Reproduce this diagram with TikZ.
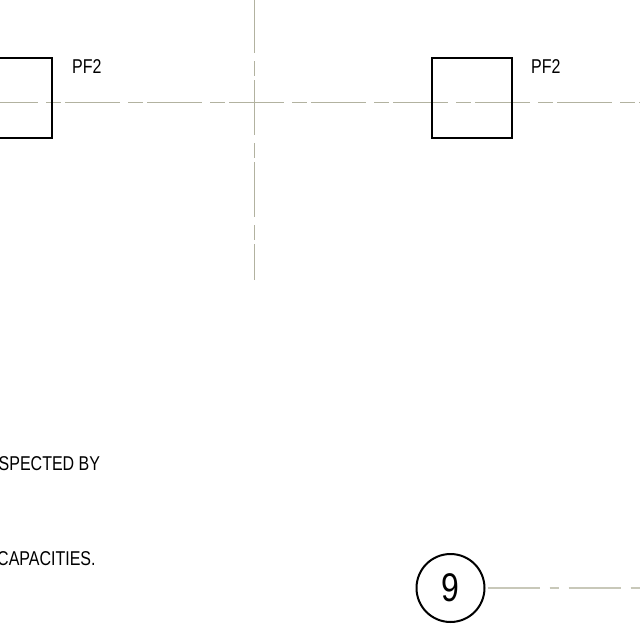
\documentclass[tikz,border=0pt]{standalone}
\usepackage{fontspec}
\setmainfont{Liberation Sans}
\newfontfamily\narrowfont[FakeStretch=0.8]{Liberation Sans}
\definecolor{gridcol}{RGB}{178,178,160}
\definecolor{gridpale}{RGB}{200,200,185}
\tikzset{
  x=1pt,y=-1pt,
  gridline/.style={draw=gridcol,line width=0.9pt,dash pattern=on 55pt off 8pt on 15pt off 4pt},
  gridlow/.style={draw=gridpale,line width=1.1pt,dash pattern=on 52pt off 10pt on 9pt off 10pt},
  column/.style={draw=black,line width=2pt,minimum size=80pt,inner sep=0pt},
  tag/.style={inner sep=0pt,anchor=base west,font=\narrowfont\fontsize{20}{22}\selectfont},
  bubble/.style={circle,draw=black,line width=2pt,minimum size=68pt,inner sep=0pt,font=\narrowfont\fontsize{40}{44}\selectfont}
}
\begin{document}
\begin{tikzpicture}
\useasboundingbox (0,0) rectangle (640,640);
\fill[white] (0,0) rectangle (640,640);
\coordinate (hs) at (-17,102);
\coordinate (he) at (640,102);
\coordinate (vs) at (254,-2);
\coordinate (ve) at (254,280);
\draw[gridline] (hs) -- (he);
\draw[gridline] (vs) -- (ve);
\node[column] (c1) at (12,97.5) {};
\node[column] (c2) at (472,97.5) {};
\node[tag] (t1) at (72,73) {PF2};
\node[tag] (t2) at (531,73) {PF2};
\node[tag] (n1) at (-1.5,470) {SPECTED BY};
\node[tag] (n2) at (-3,565) {CAPACITIES.};
\node[bubble] (b) at (450.5,588) {9};
\coordinate (be) at (640,588);
\draw[gridlow,shorten <=2pt] (b.east) -- (be);
\end{tikzpicture}
\end{document}
